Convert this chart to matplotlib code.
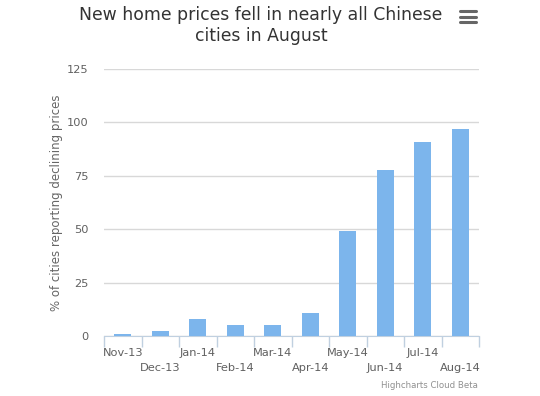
import matplotlib
matplotlib.use("Agg")
import matplotlib.pyplot as plt
from matplotlib.lines import Line2D

months = ["Nov-13", "Dec-13", "Jan-14", "Feb-14", "Mar-14",
          "Apr-14", "May-14", "Jun-14", "Jul-14", "Aug-14"]
declining = [0.9, 2.3, 7.8, 5.1, 5.1, 10.7, 49.2, 77.8, 90.6, 96.7]
yticks = [0, 25, 50, 75, 100, 125]

fig = plt.figure(figsize=(5.4, 3.96), dpi=100)
ax = fig.add_axes([104 / 540, 60 / 396, 375 / 540, 267 / 396])

x = list(range(len(months)))
ax.bar(x, declining, width=0.46, color="#7cb5ec", zorder=3)

ax.set_xlim(-0.5, len(months) - 0.5)
ax.set_ylim(0, 125)
ax.set_yticks(yticks)
ax.set_yticklabels([str(v) for v in yticks], fontsize=8.2, color="#606060")
ax.tick_params(axis="y", length=0, pad=11)
ax.grid(axis="y", color="#d8d8d8", linewidth=1, zorder=0)

labels = [m if i % 2 == 0 else "\n" + m for i, m in enumerate(months)]
ax.set_xticks(x)
ax.set_xticklabels(labels, fontsize=8.2, color="#606060")
for t in ax.get_xticklabels():
    t.set_linespacing(1.7)
ax.tick_params(axis="x", which="major", length=0, pad=8.5)
ax.set_xticks([i - 0.5 for i in range(len(months) + 1)], minor=True)
ax.tick_params(axis="x", which="minor", length=8, color="#c0d0e0", width=1)

for s in ["top", "right", "left"]:
    ax.spines[s].set_visible(False)
ax.spines["bottom"].set_color("#c0d0e0")

ax.set_ylabel("% of cities reporting declining prices", fontsize=8.5,
              color="#666666", labelpad=3)

fig.text(0.483, 1 - 6 / 396, "New home prices fell in nearly all Chinese\ncities in August",
         ha="center", va="top", fontsize=12.4, color="#333333", linespacing=1.2)

fig.text(478 / 540, 1 - 386 / 396, "Highcharts Cloud Beta", ha="right",
         va="center", fontsize=6.2, color="#909090")

for yy in [11, 16.5, 22]:
    fig.add_artist(Line2D([460 / 540, 476 / 540], [1 - yy / 396] * 2,
                          color="#666666", linewidth=2.2, solid_capstyle="round"))

fig.savefig("out.png", dpi=100, facecolor="white")
